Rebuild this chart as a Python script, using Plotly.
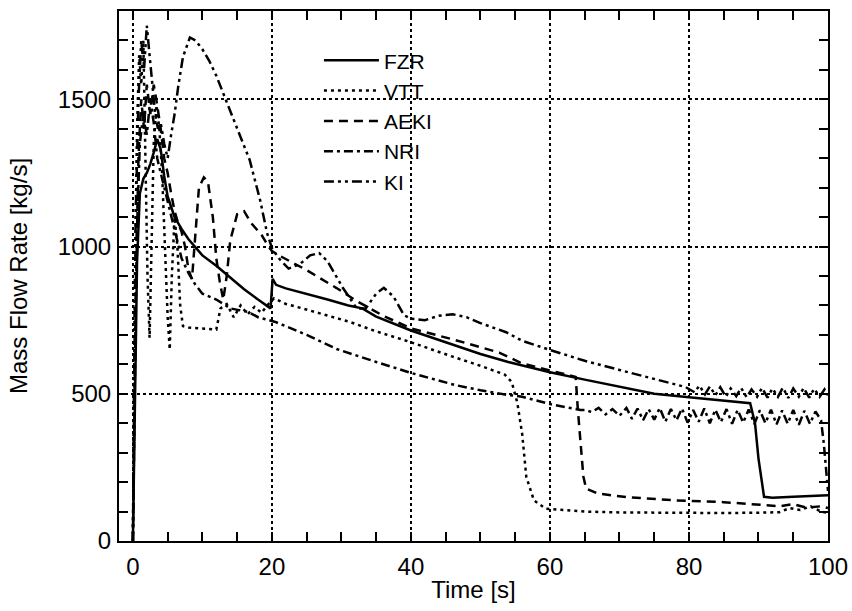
import plotly.graph_objects as go

# ---------------- data ----------------
fzr_t = [0, 0.3, 0.6, 1.0, 1.5, 2.0, 2.5, 3.0, 3.5, 4.0, 4.5, 5.0, 6.0, 7.0, 8.0, 10.0, 12.0, 14.0,
         16.0, 18.0, 19.8, 20.1, 20.6, 22, 25, 28, 31, 33, 35, 40, 45, 50, 54, 60, 65, 70, 75, 80, 85,
         88.8, 89.5, 90.0, 90.8, 92, 95, 100]
fzr_v = [0, 500, 950, 1180, 1230, 1250, 1280, 1320, 1365, 1330, 1240, 1170, 1100, 1060, 1025, 970,
         935, 895, 855, 820, 790, 890, 870, 858, 840, 820, 800, 790, 762, 715, 675, 635, 608, 573, 548,
         525, 500, 488, 476, 468, 400, 280, 150, 147, 150, 155]

vtt_t = [0, 0.3, 0.6, 0.9, 1.2, 1.5, 1.8, 2.1, 2.4, 2.7, 3.0, 3.4, 3.8, 4.2, 4.6, 5.0, 5.3, 5.6,
         6.0, 6.4, 6.8, 7.2, 8, 10, 12, 12.6, 13.5, 14.5, 15.5, 16.5, 17.5, 18.5, 19.5, 20.3, 22,
         24.4, 28, 31.2, 35, 40, 46, 50, 53.5, 54.5, 55.3, 56, 56.6, 57.7, 59.4, 65, 70, 75, 80, 85,
         90, 93, 94.5, 96, 97.5, 99, 100]
vtt_v = [0, 900, 1400, 1650, 1550, 1700, 1300, 900, 690, 1000, 1350, 1480, 1400, 1250, 1000, 760,
         650, 900, 1100, 1000, 800, 730, 725, 722, 718, 790, 805, 760, 800, 770, 795, 775, 805, 824,
         805, 790, 765, 744, 712, 675, 626, 595, 565, 540, 470, 364, 217, 138, 110, 100, 97, 96, 95,
         95, 96, 98, 112, 105, 118, 100, 95]

aeki_t = [0, 0.4, 0.8, 1.2, 1.6, 2.0, 2.5, 3.0, 3.5, 4.0, 4.5, 5.0, 5.5, 6.0, 6.5, 7.0, 7.5, 8.0,
          8.5, 9.0, 9.5, 10.2, 10.8, 11.5, 12.0, 12.5, 13.0, 13.5, 14.0, 15.0, 16.0, 17.0, 18.5,
          19.5, 20, 21, 25, 29.3, 32.2, 36, 40, 46.3, 52.7, 55.9, 60, 63.7, 64.0, 64.4, 64.8, 65.2,
          66.9, 71, 78, 85, 90, 92, 93, 95, 97, 99, 100]
aeki_v = [0, 800, 1300, 1500, 1400, 1550, 1450, 1550, 1480, 1400, 1300, 1250, 1180, 1120, 1080,
          1050, 1000, 920, 890, 1050, 1200, 1235, 1220, 1100, 960, 880, 820, 900, 1020, 1110, 1120,
          1080, 1040, 1000, 985, 970, 920, 859, 815, 765, 722, 683, 640, 604, 580, 557, 450, 330,
          220, 178, 161, 149, 138, 132, 124, 122, 118, 125, 113, 118, 112]

nri_t = [0, 0.5, 1.0, 1.5, 2.0, 2.5, 3.0, 3.5, 4.0, 5.0, 6.0, 7.0, 8.0, 9.0, 10.0, 12.0, 14.0,
         16.6, 18, 20.5, 25, 29.3, 35, 40, 46.3, 50, 53.7, 56, 60, 64.4, 65, 66, 67, 68, 69, 70, 71,
         71.8, 72.6, 73.4, 74.2, 75, 75.8, 76.6, 77.4, 78.2, 79, 79.8, 80.6, 81.4, 82.2, 83, 83.8,
         84.6, 85.4, 86.2, 87, 87.8, 88.6, 89.4, 90.2, 91, 91.8, 92.6, 93.4, 94.2, 95, 95.8, 96.6,
         97.4, 98.2, 99, 99.4, 99.7, 100]
nri_v = [0, 1000, 1350, 1450, 1380, 1500, 1420, 1300, 1250, 1150, 1050, 960, 910, 870, 840, 820,
         790, 778, 760, 744, 700, 652, 608, 571, 530, 512, 497, 490, 465, 445, 445, 438, 452, 430,
         448, 425, 452, 415, 450, 410, 448, 412, 452, 405, 448, 410, 450, 402, 445, 405, 450, 400,
         446, 404, 448, 398, 445, 402, 447, 397, 444, 400, 446, 396, 443, 398, 445, 395, 442, 398,
         440, 410, 330, 240, 170]

ki_t = [0, 0.4, 0.8, 1.2, 1.6, 2.0, 2.4, 2.8, 3.2, 3.6, 4.0, 4.5, 5.0, 5.5, 6.0, 6.5, 7.2, 8.2,
        9.0, 10, 11, 12, 13, 15, 16.8, 18.3, 19.3, 20, 21, 22.4, 24, 25.5, 26.8, 28, 30.2, 32.2,
        33.5, 35, 36.1, 37.5, 39, 40, 42, 44, 46, 48, 50, 53.7, 56, 60, 65, 70, 75, 79.5, 80.8,
        81.5, 82.3, 83, 83.8, 84.5, 85.3, 86, 86.8, 87.5, 88.3, 89, 89.8, 90.5, 91.3, 92, 92.8,
        93.5, 94.3, 95, 95.8, 96.5, 97.3, 98, 98.8, 99.5, 100]
ki_v = [0, 1100, 1500, 1700, 1600, 1750, 1650, 1550, 1450, 1400, 1420, 1350, 1300, 1380, 1450,
        1540, 1644, 1710, 1700, 1670, 1630, 1580, 1520, 1406, 1294, 1158, 1046, 995, 960, 925, 940,
        970, 978, 950, 860, 790, 790, 840, 860, 830, 767, 755, 750, 765, 770, 760, 740, 709, 680,
        649, 612, 581, 550, 523, 505, 528, 498, 525, 495, 522, 490, 518, 492, 520, 488, 515, 490,
        520, 487, 518, 490, 521, 486, 518, 490, 520, 487, 517, 490, 515, 495]

series_names = ["FZR", "VTT", "AEKI", "NRI", "KI"]
series_t = [fzr_t, vtt_t, aeki_t, nri_t, ki_t]
series_v = [fzr_v, vtt_v, aeki_v, nri_v, ki_v]
series_dash = ["solid", "3px,4px", "9px,6px", "9px,4px,3px,4px", "10px,4px,3px,4px,3px,4px"]

x_ticks = [0, 20, 40, 60, 80, 100]
y_ticks = [0, 500, 1000, 1500]

# ---------------- figure ----------------
FONT = "Liberation Sans, Arial, Helvetica, sans-serif"
fig = go.Figure()
for name, t, v, d in zip(series_names, series_t, series_v, series_dash):
    fig.add_trace(go.Scatter(x=t, y=v, mode="lines", name=name,
                             line=dict(color="black", width=2.5, dash=d)))

axis_common = dict(
    showline=True, linecolor="black", linewidth=2, mirror="ticks",
    ticks="inside", ticklen=9, tickwidth=1.5, tickcolor="black",
    showgrid=True, gridcolor="black", gridwidth=1.5, griddash="dot",
    zeroline=False, tickfont=dict(family=FONT, size=24, color="black"),
)

fig.update_xaxes(**axis_common, range=[-2, 100], tickvals=x_ticks,
                 minor=dict(dtick=5, tick0=0, ticks="inside", ticklen=9, tickcolor="black",
                            tickwidth=1.5, showgrid=False),
                 ticklabelstandoff=3,
                 title=dict(text="Time [s]", font=dict(family=FONT, size=24, color="black"),
                            standoff=2))
fig.update_yaxes(**axis_common, range=[0, 1800], tickvals=y_ticks,
                 minor=dict(dtick=100, tick0=0, ticks="inside", ticklen=9, tickcolor="black",
                            tickwidth=1.5, showgrid=False),
                 ticklabelstandoff=1,
                 title=dict(text="Mass Flow Rate [kg/s]",
                            font=dict(family=FONT, size=24, color="black"), standoff=23))

fig.update_layout(
    width=852, height=611,
    margin=dict(l=119, r=24, t=11, b=70, autoexpand=False),
    paper_bgcolor="white", plot_bgcolor="white",
    showlegend=True,
    legend=dict(x=0.282, y=0.945, xanchor="left", yanchor="top",
                bgcolor="rgba(0,0,0,0)", borderwidth=0, tracegroupgap=0,
                itemwidth=55, font=dict(family=FONT, size=21, color="black")),
)

fig.write_html("out.html", config={"displayModeBar": False},
               post_script="document.body.style.margin='0';")
